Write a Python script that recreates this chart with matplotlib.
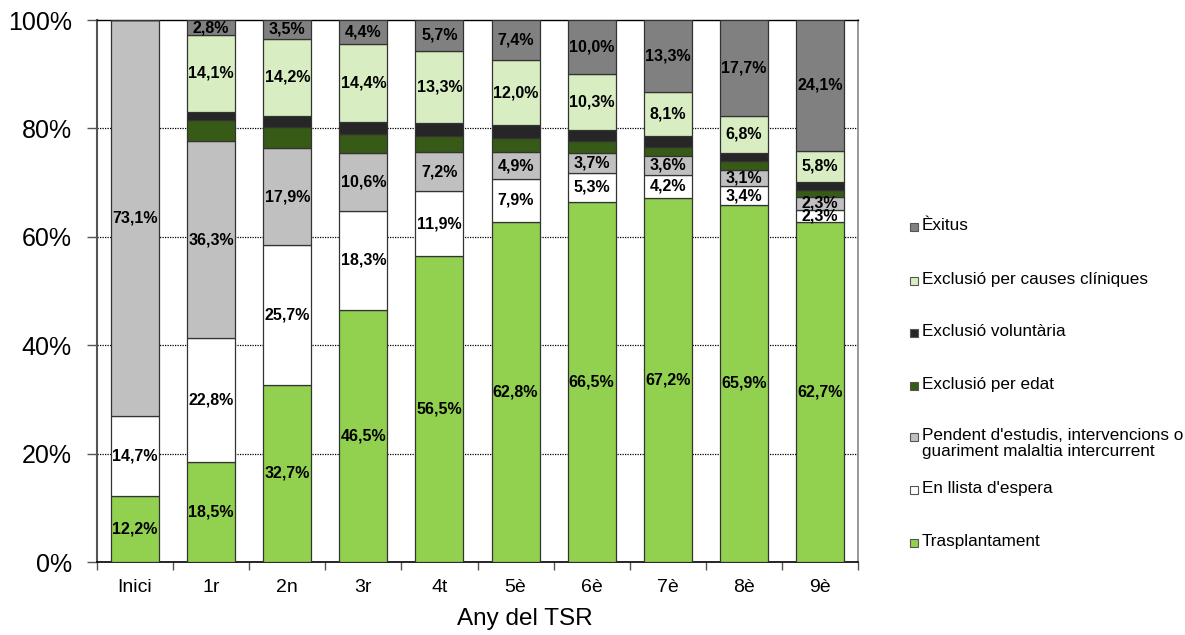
import matplotlib
matplotlib.use("Agg")
import matplotlib.pyplot as plt
import numpy as np
from matplotlib.patches import Rectangle

plt.rcParams['font.family'] = ['Liberation Sans', 'DejaVu Sans']

categories = ["Inici", "1r", "2n", "3r", "4t", "5è", "6è", "7è", "8è", "9è"]

trasplantament = [12.2, 18.5, 32.7, 46.5, 56.5, 62.8, 66.5, 67.2, 65.9, 62.7]
llista_espera = [14.7, 22.8, 25.7, 18.3, 11.9, 7.9, 5.3, 4.2, 3.4, 2.3]
pendent = [73.1, 36.3, 17.9, 10.6, 7.2, 4.9, 3.7, 3.6, 3.1, 2.3]
excl_edat = [0.0, 3.9, 4.0, 3.6, 3.0, 2.7, 2.2, 1.6, 1.6, 1.4]
excl_voluntaria = [0.0, 1.6, 2.0, 2.2, 2.4, 2.3, 2.0, 2.0, 1.5, 1.4]
excl_cliniques = [0.0, 14.1, 14.2, 14.4, 13.3, 12.0, 10.3, 8.1, 6.8, 5.8]
exitus = [0.0, 2.8, 3.5, 4.4, 5.7, 7.4, 10.0, 13.3, 17.7, 24.1]

series = [
    ("Trasplantament", trasplantament, "#92D050", True),
    ("En llista d'espera", llista_espera, "#FFFFFF", True),
    ("Pendent d'estudis, intervencions o\nguariment malaltia intercurrent", pendent, "#C0C0C0", True),
    ("Exclusió per edat", excl_edat, "#375A17", False),
    ("Exclusió voluntària", excl_voluntaria, "#262626", False),
    ("Exclusió per causes clíniques", excl_cliniques, "#D8EEC2", True),
    ("Èxitus", exitus, "#808080", True),
]

W, H = 1185, 635
fig = plt.figure(figsize=(W/100, H/100), dpi=100)
ax = fig.add_axes([97/W, 1-562/H, (858-97)/W, (562-20)/H])

x = np.arange(len(categories))
bottom = np.zeros(len(categories))
for name, vals, color, labeled in series:
    vals = np.array(vals)
    ax.bar(x, vals, width=0.63, bottom=bottom, color=color,
           edgecolor="#333333", linewidth=0.9, zorder=3)
    if labeled:
        for xi, b, v in zip(x, bottom, vals):
            if v > 0:
                ax.text(xi, b + v/2, f"{v:.1f}%".replace(".", ","),
                        ha="center", va="center", fontsize=11.5,
                        fontweight="bold", color="black", zorder=4)
    bottom += vals

ax.set_xlim(-0.5, len(categories) - 0.5)
ax.set_ylim(0, 100)
ax.set_yticks([0, 20, 40, 60, 80, 100])
ax.set_yticklabels(["0%", "20%", "40%", "60%", "80%", "100%"], fontsize=18)
ax.set_xticks(x)
ax.set_xticklabels(categories, fontsize=14)
ax.set_xticks(np.arange(-0.5, len(categories)), minor=True)
ax.tick_params(axis="x", which="major", length=0, pad=12)
ax.tick_params(axis="x", which="minor", length=6, color="#555555", width=1)
ax.tick_params(axis="y", length=7, width=1, color="#555555", pad=11)
ax.set_xlabel("Any del TSR", fontsize=17.5, labelpad=12)
ax.xaxis.set_label_coords((525-97)/(858-97), -0.085)

for yv in [20, 40, 60, 80]:
    ax.axhline(yv, color="black", linestyle=(0, (1, 1)), linewidth=0.9, zorder=1)

ax.spines["left"].set_color("#555555")
ax.spines["left"].set_linewidth(1.5)
ax.spines["right"].set_color("#888888")
ax.spines["right"].set_linewidth(1.2)
ax.spines["top"].set_color("black")
ax.spines["top"].set_linewidth(1)
ax.spines["bottom"].set_color("black")
ax.spines["bottom"].set_linewidth(1.2)

# Legend, drawn manually to match the original spacing (top to bottom)
legend_rows = [227, 281, 333, 386, 437, 490, 543]  # pixel rows (first line)
for (name, vals, color, labeled), ry in zip(series[::-1], legend_rows):
    sq = 8
    fig.patches.append(Rectangle(((910)/W, 1-(ry+sq/2)/H), sq/W, sq/H,
                                 transform=fig.transFigure, facecolor=color,
                                 edgecolor="#555555", linewidth=0.8))
    fig.text(922/W, 1-(ry-9)/H, name, ha="left", va="top",
             fontsize=12.3, linespacing=1.05)

fig.savefig("out.png", dpi=100)
